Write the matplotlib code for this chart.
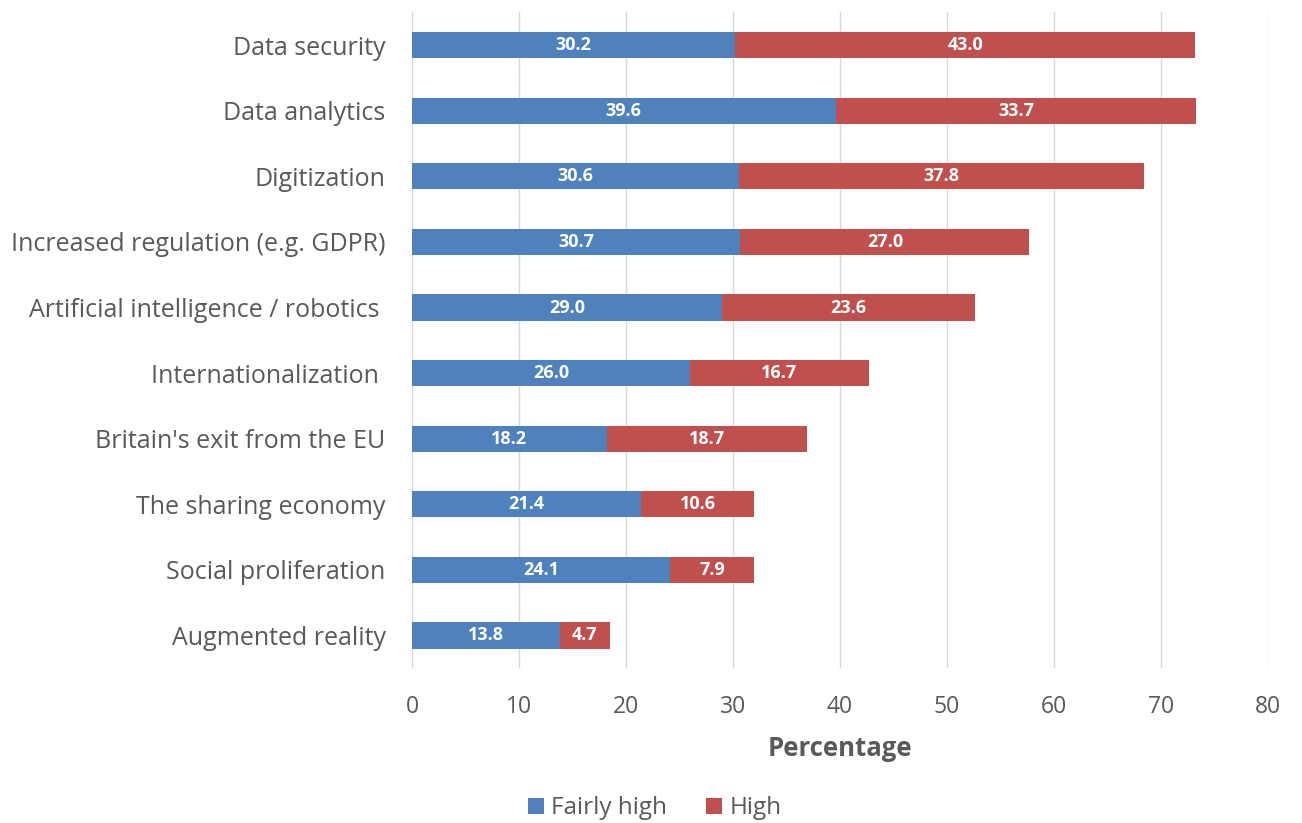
import matplotlib.pyplot as plt
import numpy as np

categories = ['Data security', 'Data analytics', 'Digitization',
              'Increased regulation (e.g. GDPR)', 'Artificial intelligence / robotics ',
              'Internationalization ', "Britain's exit from the EU", 'The sharing economy',
              'Social proliferation', 'Augmented reality']
fairly_high = [30.2, 39.6, 30.6, 30.7, 29.0, 26.0, 18.2, 21.4, 24.1, 13.8]
high = [43.0, 33.7, 37.8, 27.0, 23.6, 16.7, 18.7, 10.6, 7.9, 4.7]

plt.rcParams['font.family'] = ['Open Sans', 'DejaVu Sans']
gray = '#595959'

fig = plt.figure(figsize=(13.02, 8.23), dpi=100)
ax = fig.add_axes([0.3164, 0.188, 0.6575, 0.797])

y = np.arange(len(categories))
b1 = ax.barh(y, fairly_high, height=0.4, color='#4F81BD', label='Fairly high', zorder=3)
b2 = ax.barh(y, high, left=fairly_high, height=0.4, color='#C0504D', label='High', zorder=3)

for bars, vals in [(b1, fairly_high), (b2, high)]:
    for bar, v in zip(bars, vals):
        ax.text(bar.get_x() + bar.get_width() / 2, bar.get_y() + bar.get_height() / 2,
                f'{v:.1f}', ha='center', va='center', color='white',
                fontsize=13, fontweight='bold', zorder=4)

ax.set_xlim(0, 80)
ax.set_ylim(len(categories) - 0.5, -0.5)
ax.set_xticks(range(0, 81, 10))
ax.set_yticks(y)
ax.set_yticklabels(categories)
ax.tick_params(axis='y', length=0, pad=19, labelsize=18, labelcolor=gray)
ax.tick_params(axis='x', length=0, pad=19, labelsize=16.5, labelcolor=gray)
ax.grid(axis='x', color='#D9D9D9', linewidth=1, zorder=0)
for s in ax.spines.values():
    s.set_visible(False)

ax.set_xlabel('Percentage', fontsize=18.5, fontweight='bold', color=gray, labelpad=12)

fig.legend(handles=[b1, b2], loc='center', bbox_to_anchor=(0.503, 0.018), ncol=2,
           frameon=False, fontsize=17.5, labelcolor=gray, handlelength=0.65,
           handleheight=0.65, handletextpad=0.3, columnspacing=1.6)

fig.savefig('out.png', dpi=100)
